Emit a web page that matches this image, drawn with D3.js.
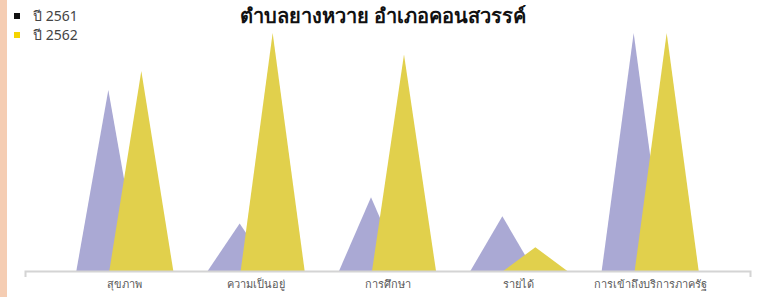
<!DOCTYPE html>
<html>
<head>
<meta charset="utf-8">
<script src="https://cdn.jsdelivr.net/npm/d3@7"></script>
<style>
  body { margin: 0; background: #fff; }
  svg { display: block; font-family: "Noto Sans", "Open Sans", sans-serif; }
</style>
</head>
<body>
<div id="chart"></div>
<script>
var svgWidth = 758;
var svgHeight = 297;

// data
var categories = ["สุขภาพ", "ความเป็นอยู่", "การศึกษา", "รายได้", "การเข้าถึงบริการภาครัฐ"];
var years = ["ปี 2561", "ปี 2562"];
var values2561 = [76, 20, 31, 23, 100];
var values2562 = [84, 100, 91, 10, 100];

var seriesColors = ["#aaa9d4", "#e1d04c"];
var legendColors = ["#111111", "#f5d400"];

var svg = d3.select("#chart")
    .append("svg")
    .attr("width", svgWidth)
    .attr("height", svgHeight);

// peach strip on the left
svg.append("rect")
    .attr("x", 0).attr("y", 0)
    .attr("width", 7).attr("height", svgHeight)
    .attr("fill", "#f5cdb3");

// scales
var xScale = d3.scaleBand()
    .domain(categories)
    .range([25, 750])
    .paddingInner(0)
    .paddingOuter(0.26);

var xSub = d3.scalePoint()
    .domain(years)
    .range([-16.5, 16.5]);

var yScale = d3.scaleLinear()
    .domain([0, 100])
    .range([271, 33]);

var halfBase = 32;

var table = [];
years.forEach(function (yr, i) {
    var vals = i === 0 ? values2561 : values2562;
    categories.forEach(function (cat, j) {
        table.push({ year: yr, cat: cat, value: vals[j], idx: i });
    });
});

// triangles
svg.append("g")
    .selectAll("path")
    .data(table)
    .enter()
    .append("path")
    .attr("d", function (d) {
        var cx = xScale(d.cat) + xScale.bandwidth() / 2 + xSub(d.year);
        var y0 = yScale(0);
        var y1 = yScale(d.value);
        return "M" + (cx - halfBase) + "," + y0 + "L" + cx + "," + y1 + "L" + (cx + halfBase) + "," + y0 + "Z";
    })
    .attr("fill", d => seriesColors[d.idx]);

// axis
var bottomAxis = d3.axisBottom(xScale).tickSize(0).tickSizeOuter(6).tickPadding(9);
var axisG = svg.append("g")
    .attr("transform", "translate(0, 271)")
    .call(bottomAxis);
axisG.select(".domain")
    .attr("stroke", "#d4d4d4")
    .attr("stroke-width", 2);
axisG.selectAll("text")
    .attr("font-size", "11px")
    .attr("fill", "#595959");

// title
svg.append("text")
    .attr("x", 383)
    .attr("y", 23)
    .attr("text-anchor", "middle")
    .attr("font-size", "20px")
    .attr("font-weight", "bold")
    .attr("fill", "#111")
    .text("ตำบลยางหวาย อำเภอคอนสวรรค์");

// legend
var legend = svg.append("g")
    .selectAll("g")
    .data(years)
    .enter()
    .append("g")
    .attr("transform", (d, i) => `translate(14, ${13 + i * 19})`);

legend.append("rect")
    .attr("width", 6).attr("height", 6)
    .attr("fill", (d, i) => legendColors[i]);

legend.append("text")
    .attr("x", 19)
    .attr("y", 8)
    .attr("font-size", "14px")
    .attr("fill", "#444")
    .text(d => d);
</script>
</body>
</html>
